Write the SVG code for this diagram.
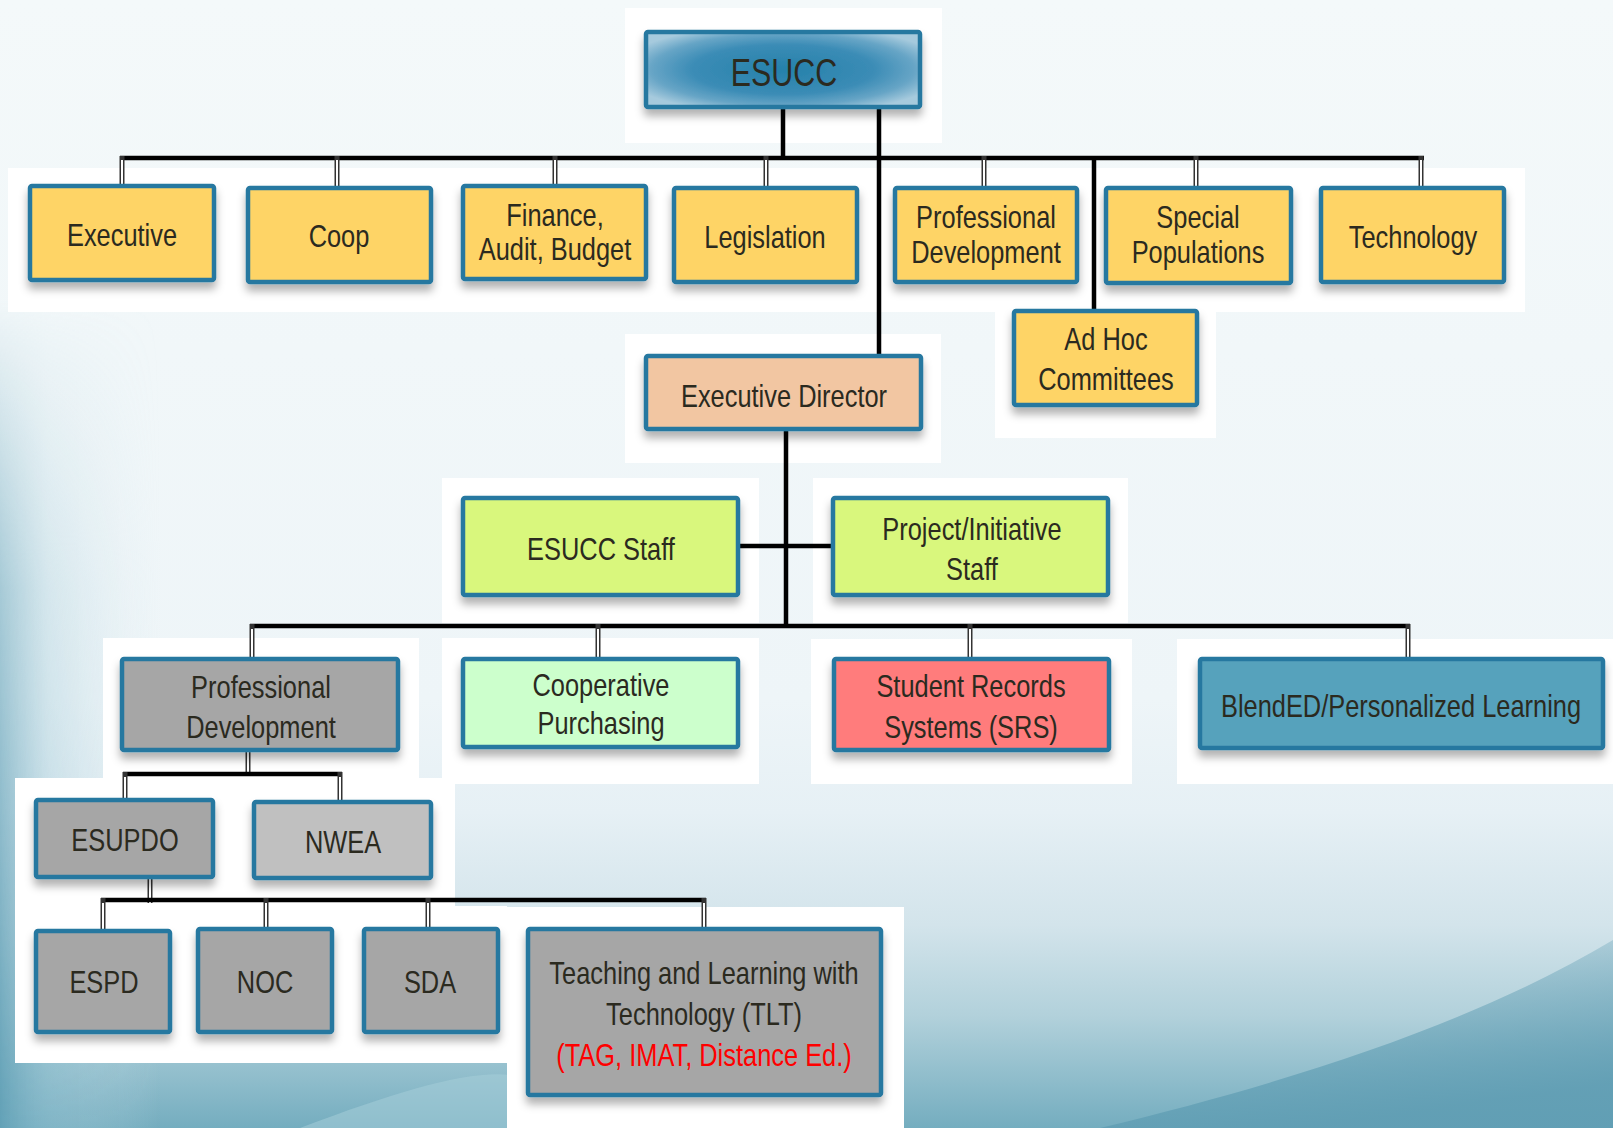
<svg xmlns="http://www.w3.org/2000/svg" width="1613" height="1128" viewBox="0 0 1613 1128">
<defs>
<linearGradient id="bg" x1="0" y1="0" x2="0" y2="1">
<stop offset="0" stop-color="#f4f9fa"/>
<stop offset="0.62" stop-color="#eef5f8"/>
<stop offset="0.72" stop-color="#e6f0f5"/>
<stop offset="0.82" stop-color="#d3e4eb"/>
<stop offset="0.9" stop-color="#b2d1db"/>
<stop offset="1" stop-color="#74adbf"/>
</linearGradient>
<linearGradient id="leftg" x1="0" y1="0" x2="1" y2="0">
<stop offset="0" stop-color="#5f9fb5" stop-opacity="0.85"/>
<stop offset="0.3" stop-color="#8fbfcf" stop-opacity="0.45"/>
<stop offset="1" stop-color="#cfe4eb" stop-opacity="0"/>
</linearGradient>
<linearGradient id="leftv" x1="0" y1="0" x2="0" y2="1">
<stop offset="0" stop-color="#fff" stop-opacity="0"/>
<stop offset="0.35" stop-color="#fff" stop-opacity="0.6"/>
<stop offset="1" stop-color="#fff" stop-opacity="1"/>
</linearGradient>
<mask id="leftm"><rect x="0" y="300" width="160" height="828" fill="url(#leftv)"/></mask>
<linearGradient id="br" x1="0" y1="0" x2="0.4" y2="1">
<stop offset="0" stop-color="#5f9db3" stop-opacity="0"/>
<stop offset="1" stop-color="#5f9db3" stop-opacity="0.9"/>
</linearGradient>
<radialGradient id="esucc" cx="0.5" cy="0.5" r="0.6">
<stop offset="0" stop-color="#2581aa"/>
<stop offset="0.55" stop-color="#3b8cb6"/>
<stop offset="0.8" stop-color="#67a5c6"/>
<stop offset="1" stop-color="#a6cadd"/>
</radialGradient>
<filter id="sh" x="-10%" y="-10%" width="120%" height="140%">
<feDropShadow dx="0" dy="7" stdDeviation="4" flood-color="#000" flood-opacity="0.3"/>
</filter>
<style>
.box{stroke:#2878a0;stroke-width:4.5;filter:url(#sh)}
.y{fill:#fed466}
.g{fill:#a6a6a6}
.lg{fill:#c0c0c0}
.t{font-family:"Liberation Sans",Arial,sans-serif;font-size:31px;fill:#2b2a1f;text-anchor:middle}
.red{fill:#ff0000}
.bar{stroke:#000;stroke-width:4.5;fill:none}
.st1{stroke:#333;stroke-width:5;fill:none}
.st2{stroke:#fff;stroke-width:2;fill:none}
.pan{fill:#fff}
</style>
</defs>

<!-- background -->
<rect x="0" y="0" width="1613" height="1128" fill="url(#bg)"/>
<rect x="0" y="300" width="160" height="828" fill="url(#leftg)" mask="url(#leftm)"/>
<path d="M1100,1128 C1300,1080 1480,1020 1613,940 L1613,1128 Z" fill="url(#br)"/>
<path d="M300,1128 C400,1090 470,1070 510,1075 L510,1128 Z" fill="#a5cdd9" opacity="0.55"/>

<!-- white panels -->
<g id="panels">
<rect class="pan" x="625" y="8" width="317" height="135"/>
<rect class="pan" x="8" y="168" width="1517" height="144"/>
<rect class="pan" x="995" y="288" width="221" height="150"/>
<rect class="pan" x="625" y="334" width="316" height="129"/>
<rect class="pan" x="442" y="478" width="317" height="145"/>
<rect class="pan" x="813" y="478" width="315" height="145"/>
<rect class="pan" x="103" y="638" width="316" height="140"/>
<rect class="pan" x="442" y="638" width="317" height="146"/>
<rect class="pan" x="811" y="639" width="321" height="145"/>
<rect class="pan" x="1177" y="639" width="436" height="145"/>
<rect class="pan" x="15" y="778" width="440" height="130"/>
<rect class="pan" x="15" y="906" width="492" height="157"/>
<rect class="pan" x="507" y="907" width="397" height="221"/>
</g>

<!-- connectors -->
<g id="connectors">
<line class="bar" x1="783" y1="108" x2="783" y2="158"/>
<line class="bar" x1="879" y1="108" x2="879" y2="356"/>
<line class="bar" x1="1094" y1="158" x2="1094" y2="311"/>
<line class="bar" x1="120" y1="158" x2="1424" y2="158"/>
<g>
<line class="st1" x1="122" y1="156" x2="122" y2="186"/><line class="st2" x1="122" y1="160" x2="122" y2="186"/>
<line class="st1" x1="337" y1="156" x2="337" y2="188"/><line class="st2" x1="337" y1="160" x2="337" y2="188"/>
<line class="st1" x1="555" y1="156" x2="555" y2="186"/><line class="st2" x1="555" y1="160" x2="555" y2="186"/>
<line class="st1" x1="766" y1="156" x2="766" y2="188"/><line class="st2" x1="766" y1="160" x2="766" y2="188"/>
<line class="st1" x1="984" y1="156" x2="984" y2="188"/><line class="st2" x1="984" y1="160" x2="984" y2="188"/>
<line class="st1" x1="1196" y1="156" x2="1196" y2="188"/><line class="st2" x1="1196" y1="160" x2="1196" y2="188"/>
<line class="st1" x1="1421" y1="156" x2="1421" y2="188"/><line class="st2" x1="1421" y1="160" x2="1421" y2="188"/>
</g>
<line class="bar" x1="786" y1="429" x2="786" y2="626"/>
<line class="bar" x1="738" y1="546" x2="833" y2="546"/>
<line class="bar" x1="250" y1="626" x2="1410" y2="626"/>
<g>
<line class="st1" x1="252" y1="624" x2="252" y2="659"/><line class="st2" x1="252" y1="629" x2="252" y2="659"/>
<line class="st1" x1="598" y1="624" x2="598" y2="659"/><line class="st2" x1="598" y1="629" x2="598" y2="659"/>
<line class="st1" x1="970" y1="624" x2="970" y2="659"/><line class="st2" x1="970" y1="629" x2="970" y2="659"/>
<line class="st1" x1="1408" y1="624" x2="1408" y2="659"/><line class="st2" x1="1408" y1="629" x2="1408" y2="659"/>
</g>
<line class="st1" x1="248" y1="750" x2="248" y2="774"/><line class="st2" x1="248" y1="752" x2="248" y2="772"/>
<line class="bar" x1="123" y1="774" x2="342" y2="774"/>
<line class="st1" x1="125" y1="772" x2="125" y2="801"/><line class="st2" x1="125" y1="777" x2="125" y2="801"/>
<line class="st1" x1="340" y1="772" x2="340" y2="802"/><line class="st2" x1="340" y1="777" x2="340" y2="802"/>
<line class="st1" x1="150" y1="877" x2="150" y2="903"/><line class="st2" x1="150" y1="879" x2="150" y2="903"/>
<line class="bar" x1="101" y1="900" x2="706" y2="900"/>
<g>
<line class="st1" x1="103" y1="898" x2="103" y2="931"/><line class="st2" x1="103" y1="903" x2="103" y2="931"/>
<line class="st1" x1="266" y1="898" x2="266" y2="929"/><line class="st2" x1="266" y1="903" x2="266" y2="929"/>
<line class="st1" x1="428" y1="898" x2="428" y2="929"/><line class="st2" x1="428" y1="903" x2="428" y2="929"/>
<line class="st1" x1="704" y1="898" x2="704" y2="929"/><line class="st2" x1="704" y1="903" x2="704" y2="929"/>
</g>
</g>

<!-- nodes -->
<g id="n-esucc">
<rect class="box" x="646" y="32" width="274" height="75" rx="2" fill="url(#esucc)"/>
<text class="t" transform="translate(784 86) scale(0.78 1)" style="font-size:39px">ESUCC</text>
</g>
<g id="n-executive">
<rect class="box y" x="30" y="186" width="184" height="94" rx="2"/>
<text class="t" transform="translate(122 246) scale(0.82 1)">Executive</text>
</g>
<g id="n-coop">
<rect class="box y" x="248" y="188" width="183" height="94" rx="2"/>
<text class="t" transform="translate(339 247) scale(0.82 1)">Coop</text>
</g>
<g id="n-finance">
<rect class="box y" x="463" y="186" width="183" height="93" rx="2"/>
<text class="t" transform="translate(555 226) scale(0.82 1)">Finance,</text>
<text class="t" transform="translate(555 260) scale(0.82 1)">Audit, Budget</text>
</g>
<g id="n-legislation">
<rect class="box y" x="674" y="188" width="183" height="94" rx="2"/>
<text class="t" transform="translate(765 248) scale(0.82 1)">Legislation</text>
</g>
<g id="n-profdev">
<rect class="box y" x="895" y="188" width="182" height="94" rx="2"/>
<text class="t" transform="translate(986 228) scale(0.82 1)">Professional</text>
<text class="t" transform="translate(986 263) scale(0.82 1)">Development</text>
</g>
<g id="n-special">
<rect class="box y" x="1106" y="188" width="185" height="95" rx="2"/>
<text class="t" transform="translate(1198 228) scale(0.82 1)">Special</text>
<text class="t" transform="translate(1198 263) scale(0.82 1)">Populations</text>
</g>
<g id="n-technology">
<rect class="box y" x="1321" y="188" width="183" height="94" rx="2"/>
<text class="t" transform="translate(1413 248) scale(0.82 1)">Technology</text>
</g>
<g id="n-adhoc">
<rect class="box y" x="1014" y="311" width="183" height="94" rx="2"/>
<text class="t" transform="translate(1106 350) scale(0.82 1)">Ad Hoc</text>
<text class="t" transform="translate(1106 390) scale(0.82 1)">Committees</text>
</g>
<g id="n-execdir">
<rect class="box" x="646" y="356" width="275" height="73" rx="2" fill="#f2c6a2"/>
<text class="t" transform="translate(784 407) scale(0.82 1)">Executive Director</text>
</g>
<g id="n-esuccstaff">
<rect class="box" x="463" y="498" width="275" height="97" rx="2" fill="#d9f77d"/>
<text class="t" transform="translate(601 560) scale(0.82 1)">ESUCC Staff</text>
</g>
<g id="n-projstaff">
<rect class="box" x="833" y="498" width="275" height="97" rx="2" fill="#d9f77d"/>
<text class="t" transform="translate(972 540) scale(0.82 1)">Project/Initiative</text>
<text class="t" transform="translate(972 580) scale(0.82 1)">Staff</text>
</g>
<g id="n-pd2">
<rect class="box g" x="122" y="659" width="276" height="91" rx="2"/>
<text class="t" transform="translate(261 698) scale(0.82 1)">Professional</text>
<text class="t" transform="translate(261 738) scale(0.82 1)">Development</text>
</g>
<g id="n-coopp">
<rect class="box" x="463" y="659" width="275" height="88" rx="2" fill="#ccffcc"/>
<text class="t" transform="translate(601 696) scale(0.82 1)">Cooperative</text>
<text class="t" transform="translate(601 734) scale(0.82 1)">Purchasing</text>
</g>
<g id="n-srs">
<rect class="box" x="834" y="659" width="275" height="91" rx="2" fill="#ff7b7b"/>
<text class="t" transform="translate(971 697) scale(0.82 1)">Student Records</text>
<text class="t" transform="translate(971 738) scale(0.82 1)">Systems (SRS)</text>
</g>
<g id="n-blended">
<rect class="box" x="1200" y="659" width="403" height="89" rx="2" fill="#57a2bc"/>
<text class="t" transform="translate(1401 717) scale(0.82 1)">BlendED/Personalized Learning</text>
</g>
<g id="n-esupdo">
<rect class="box g" x="36" y="800" width="177" height="77" rx="2"/>
<text class="t" transform="translate(125 851) scale(0.82 1)">ESUPDO</text>
</g>
<g id="n-nwea">
<rect class="box lg" x="254" y="802" width="177" height="76" rx="2"/>
<text class="t" transform="translate(343 853) scale(0.82 1)">NWEA</text>
</g>
<g id="n-espd">
<rect class="box g" x="36" y="931" width="134" height="101" rx="2"/>
<text class="t" transform="translate(104 993) scale(0.82 1)">ESPD</text>
</g>
<g id="n-noc">
<rect class="box g" x="198" y="929" width="134" height="103" rx="2"/>
<text class="t" transform="translate(265 993) scale(0.82 1)">NOC</text>
</g>
<g id="n-sda">
<rect class="box g" x="364" y="929" width="134" height="103" rx="2"/>
<text class="t" transform="translate(430 993) scale(0.82 1)">SDA</text>
</g>
<g id="n-tlt">
<rect class="box g" x="528" y="929" width="353" height="166" rx="2"/>
<text class="t" transform="translate(704 984) scale(0.82 1)">Teaching and Learning with</text>
<text class="t" transform="translate(704 1025) scale(0.82 1)">Technology (TLT)</text>
<text class="t red" transform="translate(704 1066) scale(0.82 1)">(TAG, IMAT, Distance Ed.)</text>
</g>
</svg>
